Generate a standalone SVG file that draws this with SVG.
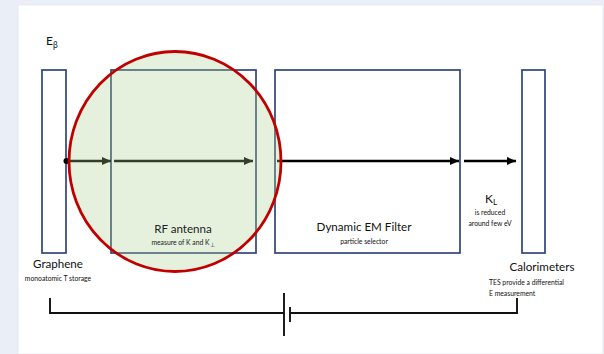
<svg xmlns="http://www.w3.org/2000/svg" width="604" height="354" viewBox="0 0 604 354">
<defs>
<marker id="ah" markerUnits="userSpaceOnUse" markerWidth="10" markerHeight="10" viewBox="0 0 10 10" refX="9" refY="5" orient="auto">
<path d="M0,1 L9,5 L0,9 Z" fill="#000"/>
</marker>
</defs>
<style>
.box{fill:#fff;stroke:#2f4577;stroke-width:1.7}
.t{font-family:Lato,"Liberation Sans",Arial,sans-serif;fill:#111;text-anchor:middle}
.big{font-size:11.6px}
.sm{font-size:6.8px}
.arr{stroke:#000;stroke-width:2.6;fill:none;marker-end:url(#ah)}
.br{stroke:#111;stroke-width:1.9;fill:none}
</style>
<rect x="0" y="0" width="604" height="354" fill="#e9eef7"/>
<rect x="18" y="5" width="585" height="349" fill="#fff" stroke="#e3e8f1" stroke-width="0.8"/>

<g id="graphene">
<rect class="box" x="42" y="70" width="24" height="183"/>
<text class="t big" x="58" y="268">Graphene</text>
<text class="t sm" x="58" y="281">monoatomic T storage</text>
</g>

<g id="rf-antenna">
<rect class="box" x="111" y="70" width="145" height="183"/>
</g>

<g id="em-filter">
<rect class="box" x="275" y="70" width="185" height="183"/>
<text class="t big" x="364" y="231">Dynamic EM Filter</text>
<text class="t sm" x="364" y="244">particle selector</text>
</g>

<g id="calorimeters">
<rect class="box" x="522" y="70" width="23" height="183"/>
<text class="t big" x="542" y="271">Calorimeters</text>
<text class="t sm" x="489" y="285" style="text-anchor:start">TES provide a differential</text>
<text class="t sm" x="489" y="296" style="text-anchor:start">E measurement</text>
</g>

<g id="e-beta">
<text class="t" x="46" y="45" style="text-anchor:start;font-size:12px">E<tspan font-size="8.5" dy="3">β</tspan></text>
</g>

<g id="kl-label">
<text class="t" x="491" y="203" style="font-size:12px">K<tspan font-size="8" dy="2">L</tspan></text>
<text class="t sm" x="490" y="215">is reduced</text>
<text class="t sm" x="490" y="226">around few eV</text>
</g>

<g id="connectors">
<circle cx="66.5" cy="161" r="3" fill="#000"/>
<line class="arr" x1="66" y1="161" x2="111" y2="161"/>
<line class="arr" x1="114" y1="161" x2="253" y2="161"/>
<line class="arr" x1="277" y1="161" x2="459" y2="161"/>
<line class="arr" x1="464" y1="161" x2="516" y2="161"/>
<polyline class="br" points="50,298 50,313 284,313"/>
<line class="br" x1="284" y1="293" x2="284" y2="336"/>
<line class="br" x1="290" y1="307" x2="290" y2="322"/>
<polyline class="br" points="290,313 517,313 517,298"/>
</g>

<g id="rf-highlight">
<ellipse cx="175" cy="161.5" rx="106" ry="110" fill="#a9d18e" fill-opacity="0.3" stroke="#c00000" stroke-width="2.8"/>
<text class="t big" x="183" y="233" style="fill:#222">RF antenna</text>
<text class="t sm" x="183" y="245" style="fill:#222">measure of K and K<tspan font-size="5.5" dy="1.5">⊥</tspan></text>
</g>
</svg>
